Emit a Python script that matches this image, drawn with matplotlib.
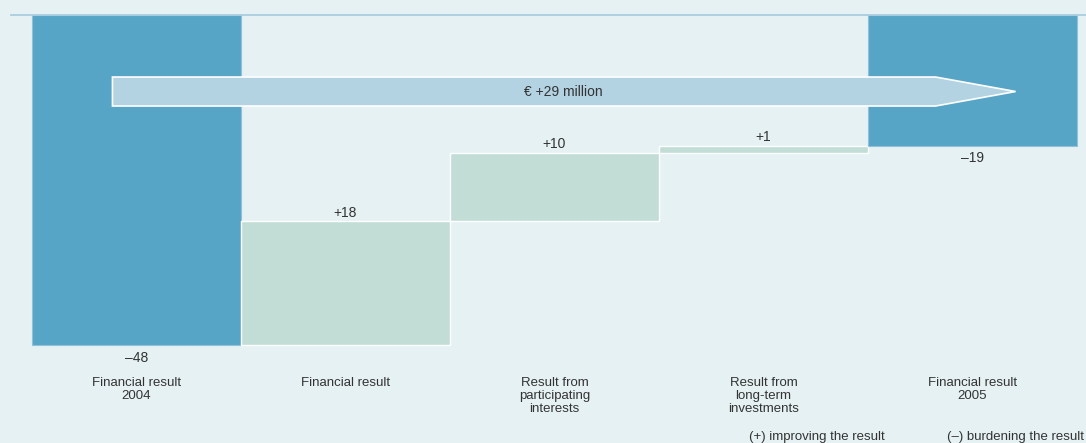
import numpy as np
import matplotlib.pyplot as plt
from matplotlib.patches import Polygon

plt.rcParams['font.family'] = ['Liberation Sans', 'DejaVu Sans']

categories = ['Financial result\n2004', 'Financial result',
              'Result from\nparticipating\ninterests',
              'Result from\nlong-term\ninvestments',
              'Financial result\n2005']
start_value = -48
changes = [18, 10, 1]
end_value = -19
value_labels = ['\u201348', '+18', '+10', '+1', '\u201319']
arrow_label = '\u20ac +29 million'
legend_plus = '(+) improving the result'
legend_minus = '(\u2013) burdening the result'

bg = '#e6f1f3'
dark = '#57a5c6'
light = '#c2ddd6'
arrow_col = '#b3d3e3'
text_col = '#333333'

fig = plt.figure(figsize=(10.86, 4.43), dpi=100, facecolor=bg)
ax = fig.add_axes([0, 0, 1, 1])
ax.set_facecolor(bg)
ax.set_xlim(-0.653, 4.543)
ax.set_ylim(-62.25, 2.18)
ax.axis('off')

x = np.arange(len(categories))

# cumulative levels for the floating bars
levels = start_value + np.concatenate([[0], np.cumsum(changes)])
bottoms = levels[:-1]

ax.bar(x[0], start_value, width=1, color=dark, edgecolor='#8fc2da', linewidth=0.8, zorder=2)
ax.bar(x[1:4], changes, bottom=bottoms, width=1, color=light, edgecolor='white', linewidth=1, zorder=2)
ax.bar(x[4], end_value, width=1, color=dark, edgecolor='#8fc2da', linewidth=0.8, zorder=2)

# baseline at zero
ax.plot([-0.6, 4.543], [0, 0], color='#a9cde0', lw=1.3, zorder=3)

# value labels
fs = 10
ax.text(x[0], start_value - 0.9, value_labels[0], ha='center', va='top', fontsize=fs, color=text_col)
for i, ch in enumerate(changes):
    ax.text(x[i + 1], levels[i + 1] + 0.25, value_labels[i + 1], ha='center', va='bottom', fontsize=fs, color=text_col)
ax.text(x[4], end_value - 0.8, value_labels[4], ha='center', va='top', fontsize=fs, color=text_col)

# big arrow
y_top, y_bot = -9.02, -13.24
y_mid = (y_top + y_bot) / 2
arrow = Polygon([[-0.115, y_top], [3.823, y_top], [4.206, y_mid],
                 [3.823, y_bot], [-0.115, y_bot]],
                closed=True, facecolor=arrow_col, edgecolor='white', lw=1.2, zorder=4)
ax.add_patch(arrow)
ax.text(2.04, y_mid, arrow_label, ha='center', va='center', fontsize=fs, color=text_col, zorder=5)

# category labels
for xi, lab in zip(x, categories):
    ax.text(xi, -52.6, lab, ha='center', va='top', fontsize=9.5, color=text_col, linespacing=1.12)

# legend texts at bottom
ax.text(3.579, -61.4, legend_plus, ha='right', va='center', fontsize=9.5, color=text_col)
ax.text(4.535, -61.4, legend_minus, ha='right', va='center', fontsize=9.5, color=text_col)

fig.savefig('out.png', dpi=100, facecolor=bg)
